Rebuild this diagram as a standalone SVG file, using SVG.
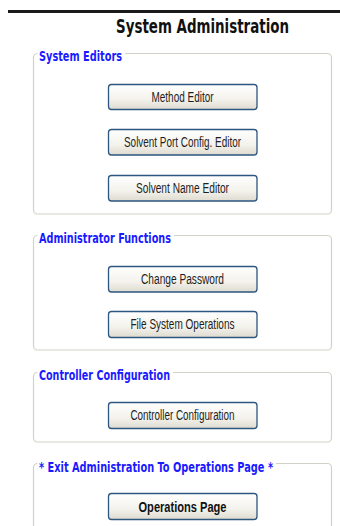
<svg xmlns="http://www.w3.org/2000/svg" width="340" height="526" viewBox="0 0 340 526">
  <defs>
    <linearGradient id="btnFill" x1="0" y1="0" x2="0" y2="1">
      <stop offset="0" stop-color="#ffffff"/>
      <stop offset="0.6" stop-color="#f3f2ec"/>
      <stop offset="1" stop-color="#dedbcf"/>
    </linearGradient>
    <style>
      .frame { fill: none; stroke: #d4d2c8; stroke-width: 1.2; }
      .legend { font-family: "DejaVu Sans Condensed", "DejaVu Sans", sans-serif; font-weight: bold; font-size: 14.5px; fill: #1a1aff; }
      .btn { fill: url(#btnFill); stroke: #2d5680; stroke-width: 1.3; }
      .btn-text { font-family: "Liberation Sans", Arial, sans-serif; font-size: 15.5px; fill: #1e1e1e; text-anchor: middle; }
      .btn-text.strong { font-weight: bold; fill: #111111; }
      .title { font-family: "DejaVu Sans Condensed", "DejaVu Sans", sans-serif; font-weight: bold; font-size: 19px; fill: #111111; }
    </style>
  </defs>

  <rect width="340" height="526" fill="#ffffff"/>

  <!-- header rule and title -->
  <rect x="8" y="10" width="332" height="3" fill="#1a1a1a"/>
  <text class="title" x="116" y="33" textLength="173" lengthAdjust="spacingAndGlyphs">System Administration</text>

  <!-- System Editors: fieldset outline leaves a gap for the legend -->
  <g id="system-editors">
    <path class="frame" d="M125 53.5 H327.5 A4 4 0 0 1 331.5 57.5 V210 A4 4 0 0 1 327.5 214 H37.5 A4 4 0 0 1 33.5 210 V57.5 A4 4 0 0 1 37.5 53.5"/>
    <text class="legend" x="39" y="61" textLength="83" lengthAdjust="spacingAndGlyphs">System Editors</text>
  </g>
  <g id="btn-method-editor">
    <rect class="btn" x="108.5" y="84.5" width="148.5" height="25" rx="3"/>
    <text class="btn-text" x="182.5" y="102" textLength="62" lengthAdjust="spacingAndGlyphs">Method Editor</text>
  </g>
  <g id="btn-solvent-port">
    <rect class="btn" x="108.5" y="129.5" width="148.5" height="25.5" rx="3"/>
    <text class="btn-text" x="182.5" y="147" textLength="117" lengthAdjust="spacingAndGlyphs">Solvent Port Config. Editor</text>
  </g>
  <g id="btn-solvent-name">
    <rect class="btn" x="108.5" y="175.5" width="148.5" height="25.5" rx="3"/>
    <text class="btn-text" x="182.5" y="193" textLength="93" lengthAdjust="spacingAndGlyphs">Solvent Name Editor</text>
  </g>

  <!-- Administrator Functions -->
  <g id="administrator-functions">
    <path class="frame" d="M174 235.5 H327.5 A4 4 0 0 1 331.5 239.5 V346 A4 4 0 0 1 327.5 350 H37.5 A4 4 0 0 1 33.5 346 V239.5 A4 4 0 0 1 37.5 235.5"/>
    <text class="legend" x="39" y="243" textLength="132" lengthAdjust="spacingAndGlyphs">Administrator Functions</text>
  </g>
  <g id="btn-change-password">
    <rect class="btn" x="108.5" y="266.5" width="148.5" height="25.5" rx="3"/>
    <text class="btn-text" x="182.5" y="284" textLength="83" lengthAdjust="spacingAndGlyphs">Change Password</text>
  </g>
  <g id="btn-file-system">
    <rect class="btn" x="108.5" y="311.5" width="148.5" height="26" rx="3"/>
    <text class="btn-text" x="182.5" y="329" textLength="104" lengthAdjust="spacingAndGlyphs">File System Operations</text>
  </g>

  <!-- Controller Configuration -->
  <g id="controller-configuration">
    <path class="frame" d="M173 372.5 H327.5 A4 4 0 0 1 331.5 376.5 V438 A4 4 0 0 1 327.5 442 H37.5 A4 4 0 0 1 33.5 438 V376.5 A4 4 0 0 1 37.5 372.5"/>
    <text class="legend" x="39" y="380" textLength="131" lengthAdjust="spacingAndGlyphs">Controller Configuration</text>
  </g>
  <g id="btn-controller-configuration">
    <rect class="btn" x="108.5" y="402.5" width="148.5" height="26" rx="3"/>
    <text class="btn-text" x="182.5" y="420" textLength="104" lengthAdjust="spacingAndGlyphs">Controller Configuration</text>
  </g>

  <!-- Exit to operations: outline continues to the lower edge -->
  <g id="exit-administration">
    <path class="frame" d="M33.5 526 V467.5 A4 4 0 0 1 37.5 463.5"/>
    <path class="frame" d="M276 463.5 H327.5 A4 4 0 0 1 331.5 467.5 V526"/>
    <text class="legend" x="39" y="472" textLength="234" lengthAdjust="spacingAndGlyphs">* Exit Administration To Operations Page *</text>
  </g>
  <g id="btn-operations-page">
    <rect class="btn" x="108.5" y="493.5" width="148.5" height="26" rx="3"/>
    <text class="btn-text strong" x="182.5" y="512" textLength="88" lengthAdjust="spacingAndGlyphs">Operations Page</text>
  </g>
</svg>
